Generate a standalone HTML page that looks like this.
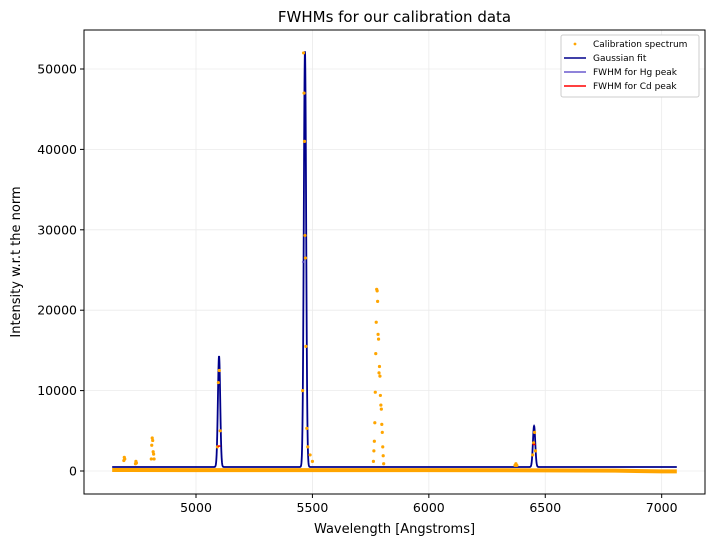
<!DOCTYPE html>
<html><head><meta charset="utf-8"><style>
body{margin:0;background:#fff;font-family:"Liberation Sans","DejaVu Sans",sans-serif}
svg text{font-family:"DejaVu Sans","Liberation Sans",sans-serif}
</style></head><body>
<svg id="c" width="713" height="545" xmlns="http://www.w3.org/2000/svg"></svg>
<script>
const xTicks=[5000,5500,6000,6500,7000];
const yTicks=[0,10000,20000,30000,40000,50000];
const fitBaseline=500;
const fitCenters=[5099,5468,6452];
const fitAmps=[13800,51700,5100];
const fitSigmas=[5,5,5];
const fitRange=[4640,7065];
const specBaseline=[[4640,120],[5000,110],[5500,110],[6000,110],[6500,80],[6800,40],[7000,-40],[7065,-40]];
const specX=[4690,4692,4694,4740,4742,4744,4808,4810,4812,4814,4816,4818,4820,5092,5096,5100,5104,5458,5462,5464,5466,5468,5470,5472,5476,5480,5490,5500,
5762,5764,5766,5768,5770,5772,5774,5776,5778,5780,5782,5784,5786,5788,5790,5792,5794,5796,5798,5800,5802,5804,5806,6370,6374,6378,6446,6450,6454,6458];
const specY=[1300,1700,1500,900,1200,1000,1500,3200,4100,3800,2400,2100,1500,3000,11000,12500,5000,10000,52000,47000,41000,29300,26500,15500,5300,3000,2000,1200,
1200,2500,3700,6000,9800,14600,18500,22600,22400,21100,17000,16400,12200,13000,11800,9400,8200,7700,5800,4800,3000,1900,900,700,900,700,2000,3500,4800,2500];
const hgFWHM=[5461,26000];
const cdFWHM=[[5099,3100],[6452,3300]];

const L=84,R=705,T=30,B=494;
const X=v=>196+(v-5000)*0.23284;
const Y=v=>471-v*0.00804;
const svg=document.getElementById('c');
const NS='http://www.w3.org/2000/svg';
function mk(t,a,p){const e=document.createElementNS(NS,t);for(const k in a)e.setAttribute(k,a[k]);(p||svg).appendChild(e);return e;}
let e;
xTicks.forEach(v=>{e=mk('line',{x1:X(v),x2:X(v),y1:T,y2:B,stroke:'#ebebeb','stroke-width':0.8});

mk('line',{x1:X(v),x2:X(v),y1:B,y2:B+4,stroke:'#000'});
e=mk('text',{x:X(v),y:B+18,'text-anchor':'middle','font-size':12.5});e.textContent=v;
});
yTicks.forEach(v=>{e=mk('line',{x1:L,x2:R,y1:Y(v),y2:Y(v),stroke:'#ebebeb','stroke-width':0.8});

mk('line',{x1:L-4,x2:L,y1:Y(v),y2:Y(v),stroke:'#000'});
e=mk('text',{x:L-7,y:Y(v)+4.5,'text-anchor':'end','font-size':12.5});e.textContent=v;
});
let d='';specBaseline.forEach((p,i)=>{d+=(i?'L':'M')+X(p[0])+' '+Y(p[1]);});
e=mk('path',{d:d,fill:'none',stroke:'orange','stroke-width':4});

d='';for(let w=fitRange[0];w<=fitRange[1];w+=0.5){let y=fitBaseline;fitCenters.forEach((c,i)=>{y+=fitAmps[i]*Math.exp(-((w-c)**2)/(2*fitSigmas[i]**2));});d+=(w===fitRange[0]?'M':'L')+X(w).toFixed(2)+' '+Y(y).toFixed(2);}
e=mk('path',{d:d,fill:'none',stroke:'#00008b','stroke-width':1.8});

specX.forEach((v,i)=>{e=mk('circle',{cx:X(v),cy:Y(specY[i]),r:1.6,fill:'orange'});
});
e=mk('line',{x1:X(hgFWHM[0]-6),x2:X(hgFWHM[0]+6),y1:Y(hgFWHM[1]),y2:Y(hgFWHM[1]),stroke:'#6a5acd','stroke-width':1.5});

cdFWHM.forEach(p=>{e=mk('line',{x1:X(p[0]-6),x2:X(p[0]+6),y1:Y(p[1]),y2:Y(p[1]),stroke:'red','stroke-width':1.5});
});
e=mk('rect',{x:L,y:T,width:R-L,height:B-T,fill:'none',stroke:'#000','stroke-width':1});

e=mk('text',{x:(L+R)/2,y:22,'text-anchor':'middle','font-size':15});e.textContent='FWHMs for our calibration data';

e=mk('text',{x:(L+R)/2,y:533,'text-anchor':'middle','font-size':13});e.textContent='Wavelength [Angstroms]';

e=mk('text',{x:20,y:262,'text-anchor':'middle','font-size':13,transform:'rotate(-90 20 262)'});e.textContent='Intensity w.r.t the norm';

const lg=mk('g',{});
mk('rect',{x:561,y:35,width:138,height:62,rx:2,fill:'#fff',stroke:'#ccc'},lg);
mk('circle',{cx:575,cy:44,r:1.4,fill:'orange'},lg);
mk('line',{x1:564,x2:586,y1:58,y2:58,stroke:'#00008b','stroke-width':1.6},lg);
mk('line',{x1:564,x2:586,y1:72,y2:72,stroke:'#6a5acd','stroke-width':1.6},lg);
mk('line',{x1:564,x2:586,y1:86,y2:86,stroke:'red','stroke-width':1.6},lg);
['Calibration spectrum','Gaussian fit','FWHM for Hg peak','FWHM for Cd peak'].forEach((t,i)=>{e=mk('text',{x:593,y:47+i*14,'font-size':9},lg);e.textContent=t;
});
</script>
</body></html>
